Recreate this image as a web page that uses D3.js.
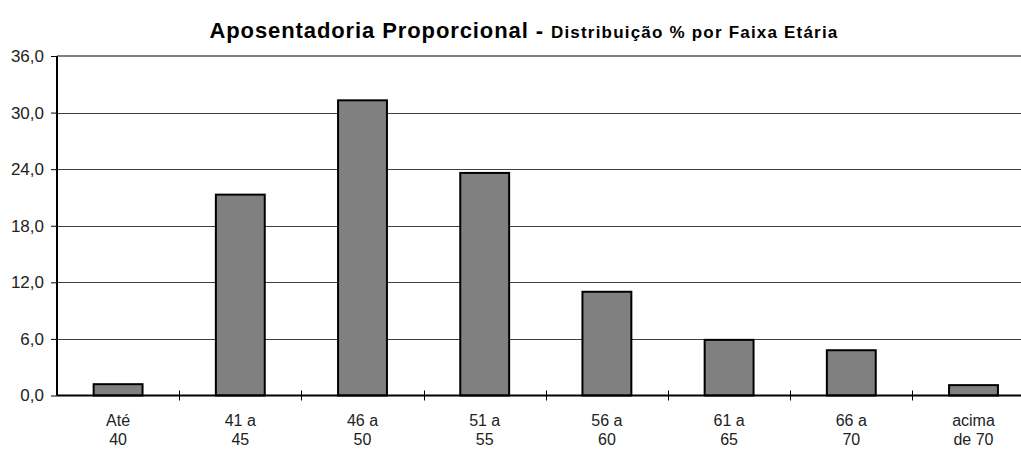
<!DOCTYPE html>
<html><head><meta charset="utf-8">
<script src="https://cdn.jsdelivr.net/npm/d3@7"></script>
<style>body{margin:0;background:#fff}svg{display:block}text{font-family:"Liberation Sans",Arial,sans-serif}</style>
</head><body>
<svg id="c" width="1021" height="450"></svg>
<script>
const categories = [["Até","40"],["41 a","45"],["46 a","50"],["51 a","55"],["56 a","60"],["61 a","65"],["66 a","70"],["acima","de 70"]];
const values = [1.2, 21.3, 31.3, 23.6, 11.0, 5.9, 4.8, 1.1];
const yTicks = [0, 6, 12, 18, 24, 30, 36];

const svg = d3.select("#c");
const x = d3.scaleBand().domain(d3.range(categories.length)).range([57, 1034.6]).paddingInner(0.6).paddingOuter(0.3);
const y = d3.scaleLinear().domain([0, 36]).range([395.5, 56]);

// gridlines
svg.append("g").selectAll("line").data(yTicks.filter(d => d > 0 && d < 36)).join("line")
  .attr("x1", 57).attr("x2", 1021).attr("y1", d => Math.round(y(d)) + 0.5).attr("y2", d => Math.round(y(d)) + 0.5)
  .attr("stroke", "#404040").attr("stroke-width", 1);
svg.append("line").attr("x1", 57).attr("x2", 1021).attr("y1", y(36)).attr("y2", y(36))
  .attr("stroke", "#808080").attr("stroke-width", 2);

// bars
svg.append("g").selectAll("rect").data(values).join("rect")
  .attr("x", (d, i) => x(i)).attr("width", x.bandwidth())
  .attr("y", d => y(d)).attr("height", d => y(0) - y(d))
  .attr("fill", "#808080").attr("stroke", "#000").attr("stroke-width", 2);

// y axis
const ya = svg.append("g").attr("transform", "translate(57,0)")
  .call(d3.axisLeft(y).tickValues(yTicks).tickSize(6).tickPadding(7).tickFormat(d => d3.format(".1f")(d).replace(".", ",")));
ya.select(".domain").attr("stroke", "#000").attr("stroke-width", 2).attr("d", `M0,${y(36)}V${y(0)}`);
ya.selectAll(".tick line").attr("stroke", "#000");
ya.selectAll("text").attr("font-size", 17).attr("fill", "#222").attr("font-family", '"Liberation Sans",Arial,sans-serif');

// x axis line
const xStep = x.step();
const x0 = 57;
svg.append("line").attr("x1", 57).attr("x2", 1021).attr("y1", y(0)).attr("y2", y(0)).attr("stroke", "#000").attr("stroke-width", 2);
svg.append("g").selectAll("line").data(d3.range(1, categories.length)).join("line")
  .attr("x1", i => Math.round(x0 + i * xStep) + 0.5).attr("x2", i => Math.round(x0 + i * xStep) + 0.5)
  .attr("y1", y(0) - 5).attr("y2", y(0) + 5).attr("stroke", "#000").attr("stroke-width", 1);

// x labels
const lab = svg.append("g").selectAll("text").data(categories).join("text")
  .attr("text-anchor", "middle").attr("font-size", 16).attr("fill", "#222");
lab.append("tspan").attr("x", (d, i) => x(i) + x.bandwidth() / 2).attr("y", 426).text(d => d[0]);
lab.append("tspan").attr("x", (d, i) => x(i) + x.bandwidth() / 2).attr("y", 445).text(d => d[1]);

// title
const t = svg.append("text").attr("x", 524).attr("y", 38).attr("text-anchor", "middle").attr("font-weight", "bold").attr("fill", "#000");
t.append("tspan").attr("font-size", 22).attr("letter-spacing", 0.9).text("Aposentadoria Proporcional - ");
t.append("tspan").attr("font-size", 17).attr("letter-spacing", 1.2).text("Distribuição % por Faixa Etária");
</script>
</body></html>
